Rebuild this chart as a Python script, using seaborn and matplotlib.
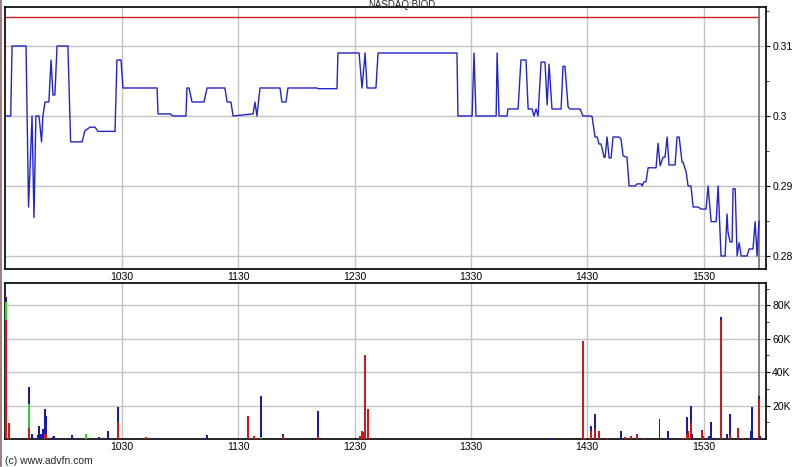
# intraday price + volume chart (advfn style)
import numpy as np
import pandas as pd
import matplotlib
matplotlib.use('Agg')
import matplotlib.pyplot as plt
from matplotlib.lines import Line2D
import seaborn as sns

sns.set_style('white')
plt.rcParams['font.family'] = ['Liberation Sans', 'DejaVu Sans']

# minutes after 09:30 and trade price
price_min = [0, 2.6, 3.3, 10.5, 11.8, 13.6, 14.6, 15.6, 17.2, 18.5, 19.2, 20.3, 22.3, 23.4,
             24.4, 25.4, 26.5, 32.1, 33.5, 39.4, 40.9, 43.5, 46.1, 47.6, 56.4, 57.4, 59.5,
             60.5, 78.1, 78.6, 84.8, 86.3, 93.0, 93.5, 94.6, 96.1, 102.3, 103.9, 113.1,
             114.2, 116.2, 117.3, 127.6, 128.6, 129.6, 131.2, 141.5, 142.5, 144.6, 145.6,
             160.6, 161.1, 170.9, 171.4, 182.3, 183.8, 185.4, 186.4, 191.0, 192.1, 232.8,
             233.3, 240.6, 241.6, 242.6, 253.0, 253.5, 254.5, 258.6, 259.1, 264.3, 265.8,
             268.4, 269.5, 271.5, 272.5, 273.6, 274.6, 276.2, 278.2, 279.3, 280.3, 281.8,
             286.5, 287.5, 288.5, 290.1, 291.1, 296.3, 297.8, 301.4, 302.5, 304.0, 305.1,
             306.1, 307.1, 308.7, 309.2, 310.2, 311.3, 312.3, 313.3, 316.4, 317.4, 318.5,
             320.5, 321.6, 324.7, 325.7, 327.8, 328.3, 329.3, 330.3, 331.4, 335.5, 336.5,
             337.6, 339.1, 340.1, 341.2, 342.2, 345.3, 346.3, 347.4, 348.9, 349.4, 351.0,
             352.0, 353.5, 354.6, 357.2, 358.7, 361.3, 362.3, 363.9, 366.5, 367.5, 369.0,
             371.1, 372.1, 372.6, 373.7, 374.7, 375.2, 376.3, 377.3, 378.3, 379.4, 382.4,
             383.5, 385.5, 386.6, 387.6, 388.6]
price = [0.300, 0.300, 0.310, 0.310, 0.287, 0.300, 0.2855, 0.300, 0.300, 0.2963, 0.300, 0.302,
         0.302, 0.308, 0.303, 0.303, 0.310, 0.310, 0.2963, 0.2963, 0.2979, 0.2984, 0.2984,
         0.2978, 0.2978, 0.308, 0.308, 0.304, 0.304, 0.3003, 0.3003, 0.300, 0.300, 0.304,
         0.304, 0.302, 0.302, 0.304, 0.304, 0.302, 0.302, 0.300, 0.3003, 0.302, 0.300, 0.304,
         0.304, 0.302, 0.302, 0.304, 0.304, 0.3039, 0.3039, 0.309, 0.309, 0.304, 0.309, 0.304,
         0.304, 0.309, 0.309, 0.300, 0.300, 0.309, 0.300, 0.300, 0.309, 0.300, 0.300, 0.301,
         0.301, 0.308, 0.308, 0.301, 0.301, 0.300, 0.301, 0.300, 0.3077, 0.3077, 0.3016,
         0.3074, 0.301, 0.301, 0.3071, 0.3071, 0.3013, 0.301, 0.301, 0.300, 0.300, 0.2999,
         0.297, 0.297, 0.296, 0.296, 0.2941, 0.2941, 0.297, 0.294, 0.294, 0.297, 0.297,
         0.2967, 0.2943, 0.2941, 0.290, 0.290, 0.2903, 0.2903, 0.290, 0.2906, 0.2906, 0.2926,
         0.2926, 0.2961, 0.2929, 0.2941, 0.2941, 0.297, 0.293, 0.293, 0.297, 0.297, 0.2934,
         0.2934, 0.292, 0.290, 0.290, 0.287, 0.287, 0.2867, 0.2867, 0.290, 0.2849, 0.2849,
         0.290, 0.280, 0.280, 0.286, 0.2834, 0.282, 0.282, 0.2896, 0.2896, 0.280, 0.2819,
         0.280, 0.280, 0.281, 0.281, 0.2849, 0.280, 0.285]
prev_close = 0.3141

# volume per trade minute, split by colour (red / green / blue), shares
vol_min = [0.2, 1.7, 12.0, 13.6, 16.7, 17.2, 18.2, 19.2, 20.3, 20.8, 24.4, 24.9, 34.2, 41.4,
           48.1, 51.2, 52.8, 57.9, 72.4, 79.1, 103.9, 125.0, 128.1, 129.1, 131.7, 143.1,
           161.1, 182.8, 183.8, 184.4, 185.4, 186.9, 243.1, 280.8, 281.8, 297.8, 298.9,
           302.0, 304.0, 306.1, 310.2, 317.4, 319.5, 322.6, 325.7, 329.3, 331.9, 337.1,
           339.6, 341.7, 349.4, 351.5, 352.0, 353.5, 354.1, 359.2, 359.7, 362.8, 363.9,
           364.9, 369.0, 372.1, 373.7, 377.8, 380.4, 384.5, 385.0, 387.1, 388.6, 389.1]
vol_red = [71000, 9300, 6300, 0, 0, 0, 0, 0, 3000, 3000, 0, 0, 0, 0,
           0, 0, 0, 10000, 1000, 0, 0, 13500, 2000, 800, 0, 1500,
           2000, 2000, 4500, 4000, 50000, 17700, 0, 0, 0, 58700, 800,
           5000, 6000, 5000, 500, 0, 1000, 2000, 3000, 500, 0, 0,
           0, 0, 500, 3000, 5000, 9300, 0, 5000, 1500, 0, 0,
           0, 71200, 0, 2500, 6300, 500, 0, 0, 0, 23700, 0]
vol_green = [11000, 0, 14700, 0, 0, 0, 0, 0, 0, 0, 0, 0, 0, 3000,
             0, 0, 0, 0, 0, 0, 0, 0, 0, 0, 1000, 0,
             0, 0, 0, 0, 0, 0, 0, 0, 0, 0, 0,
             0, 0, 0, 0, 0, 0, 0, 0, 0, 0, 0,
             0, 0, 0, 0, 0, 0, 0, 0, 0, 0, 0,
             0, 0, 0, 0, 0, 0, 0, 0, 0, 0, 0]
vol_blue = [3000, 0, 10000, 3000, 2500, 7500, 3000, 6000, 14700, 10500, 1000, 2000, 2500, 0,
            1000, 500, 5000, 9000, 0, 500, 2500, 0, 0, 0, 24500, 1500,
            14500, 0, 0, 0, 0, 0, 500, 500, 500, 0, 0,
            2500, 8700, 0, 0, 5000, 0, 0, 0, 0, 500, 11700,
            500, 4500, 0, 10000, 0, 10700, 3000, 500, 0, 2000, 10000,
            500, 1800, 3000, 12200, 0, 0, 4500, 19000, 500, 2000, 1500]

hour_ticks = [60, 120, 180, 240, 300, 360]
hour_labels = ['1030', '1130', '1230', '1330', '1430', '1530']
price_ticks = [0.28, 0.29, 0.30, 0.31]
price_labels = ['0.28', '0.29', '0.3', '0.31']
vol_ticks = [20000, 40000, 60000, 80000]
vol_labels = ['20K', '40K', '60K', '80K']

W, H = 795, 467
fig = plt.figure(figsize=(W / 100, H / 100), dpi=100)
fig.patch.set_facecolor('white')

def box(l, t, r, b):
    return [l / W, 1 - b / H, (r - l) / W, (b - t) / H]

ax1 = fig.add_axes(box(4.5, 7, 766, 269))
ax2 = fig.add_axes(box(4.5, 283, 766, 439))

xlim = (-0.6, 392.2)
grid_c = '#c4c4c4'
last_t = price_min[-1]

# price panel
df = pd.DataFrame({'t': price_min, 'price': price})
sns.lineplot(data=df, x='t', y='price', ax=ax1, color='#2424c8', linewidth=1.0,
             estimator=None, sort=False, zorder=3)
ax1.plot([xlim[0], last_t], [prev_close, prev_close], color='#d42020', linewidth=1.0, zorder=2)
ax1.set_xlim(*xlim)
ax1.set_ylim(0.27814, 0.31557)

# volume panel (stacked red / green / blue)
vdf = pd.DataFrame({'t': vol_min, 'red': vol_red, 'green': vol_green, 'blue': vol_blue})
bw = 0.7
ax2.bar(vdf['t'], vdf['red'], width=bw, color='#d01818', linewidth=0, zorder=3)
ax2.bar(vdf['t'], vdf['green'], width=bw, bottom=vdf['red'], color='#30d030', linewidth=0, zorder=3)
ax2.bar(vdf['t'], vdf['blue'], width=bw, bottom=vdf['red'] + vdf['green'], color='#1a1aa8',
        linewidth=0, zorder=3)
ax2.set_xlim(*xlim)
ax2.set_ylim(0, 93400)

for ax, yt, yl in [(ax1, price_ticks, price_labels), (ax2, vol_ticks, vol_labels)]:
    ax.set_xticks(hour_ticks)
    ax.set_xticklabels(hour_labels)
    ax.set_yticks(yt)
    ax.set_yticklabels(yl)
    ax.yaxis.tick_right()
    ax.set_xlabel('')
    ax.set_ylabel('')
    ax.grid(True, color=grid_c, linewidth=1.0, zorder=0)
    ax.set_axisbelow(True)
    ax.tick_params(axis='x', direction='in', length=3, pad=2, labelsize=7.5, colors='black')
    ax.tick_params(axis='y', direction='out', length=3, pad=1.5, labelsize=7.5, colors='black',
                   right=True, left=False)
    for s in ax.spines.values():
        s.set_color('black')
        s.set_linewidth(1.2)
    ax.axvline(last_t, color='#707070', linewidth=1.2, zorder=2)

ax1.set_yticks([0.285, 0.295, 0.305, 0.315], minor=True)
ax2.set_yticks([10000, 30000, 50000, 70000, 90000], minor=True)
for ax in (ax1, ax2):
    ax.tick_params(axis='y', which='minor', direction='out', length=2, right=True, left=False)

fig.text(402 / W, 1 - 0.3 / H, 'NASDAQ:BIOD', ha='center', va='top', fontsize=7)
fig.text(5 / W, 1 - 461 / H, '(c) www.advfn.com', ha='left', va='center', fontsize=7.5)
fig.add_artist(Line2D([0.7 / W, 0.7 / W], [0, 1], color='#8a6a6a', linewidth=1.2))

fig.savefig('out.png', dpi=100)
